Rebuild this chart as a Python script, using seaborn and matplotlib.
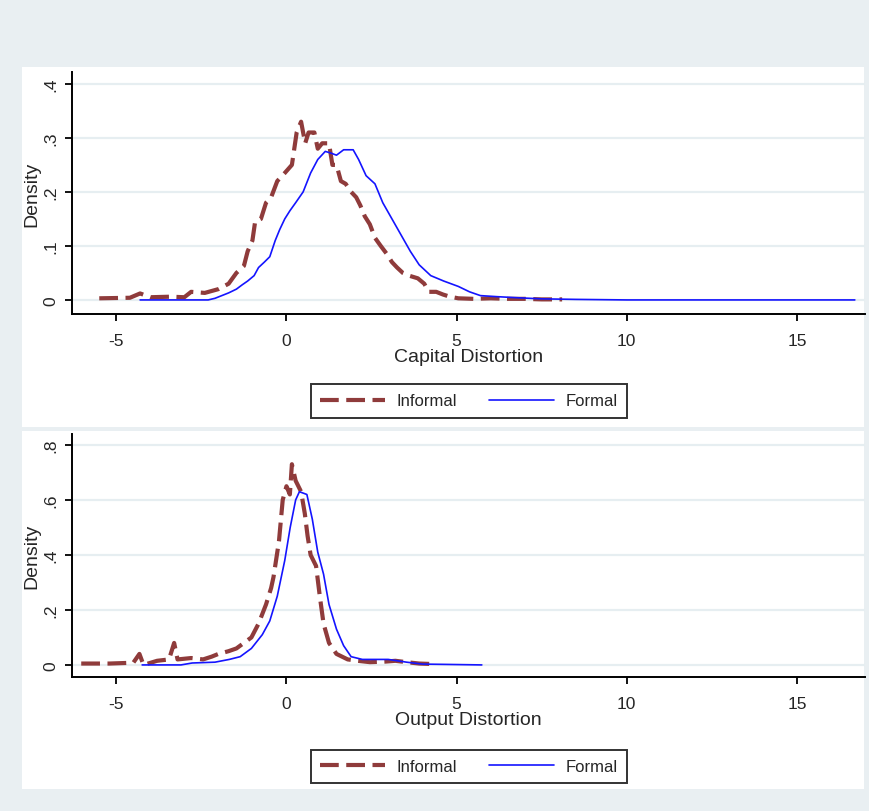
import matplotlib
matplotlib.use('Agg')
import matplotlib.pyplot as plt
from matplotlib.patches import Rectangle
from matplotlib.lines import Line2D
import seaborn as sns
import pandas as pd

# 数据：核密度曲线
cap_inf_x = [-5.5, -4.6, -4.3, -4.0, -3.4, -3.0, -2.8, -2.4, -2.0, -1.7, -1.47, -1.25, -1.14, -1.0, -0.92,
             -0.75, -0.6, -0.45, -0.27, -0.05, 0.16, 0.3, 0.43, 0.55, 0.65, 0.82, 0.92, 1.05, 1.25, 1.35,
             1.47, 1.6, 1.74, 1.9, 2.05, 2.17, 2.3, 2.45, 2.6, 2.77, 2.95, 3.1, 3.25, 3.42, 3.6, 3.86,
             4.05, 4.18, 4.4, 4.6, 4.8, 5.05, 5.5, 6.0, 6.5, 7.0, 7.5, 8.1]
cap_inf_y = [0.003, 0.004, 0.012, 0.005, 0.006, 0.005, 0.015, 0.013, 0.02, 0.03, 0.05, 0.063, 0.09, 0.11, 0.145,
             0.15, 0.18, 0.19, 0.22, 0.235, 0.25, 0.31, 0.33, 0.29, 0.31, 0.31, 0.28, 0.29, 0.29, 0.25,
             0.25, 0.22, 0.215, 0.20, 0.19, 0.175, 0.155, 0.14, 0.115, 0.10, 0.085, 0.07, 0.06, 0.05, 0.045, 0.04,
             0.03, 0.015, 0.015, 0.01, 0.006, 0.003, 0.002, 0.003, 0.002, 0.002, 0.001, 0.001]
cap_for_x = [-4.3, -3.0, -2.3, -2.1, -1.9, -1.7, -1.47, -1.3, -1.14, -0.95, -0.82, -0.65, -0.49, -0.33, -0.2,
             -0.05, 0.1, 0.27, 0.49, 0.71, 0.92, 1.14, 1.3, 1.47, 1.68, 1.96, 2.12, 2.34, 2.6, 2.83, 3.1,
             3.37, 3.64, 3.9, 4.24, 4.62, 5.05, 5.38, 5.7, 6.2, 6.8, 7.5, 8.5, 10.0, 12.0, 14.0, 16.7]
cap_for_y = [0.0, 0.0, 0.0, 0.003, 0.008, 0.013, 0.02, 0.028, 0.035, 0.045, 0.06, 0.07, 0.08, 0.11, 0.13,
             0.15, 0.165, 0.18, 0.20, 0.235, 0.26, 0.275, 0.272, 0.268, 0.278, 0.278, 0.26, 0.23, 0.215, 0.18, 0.15,
             0.12, 0.09, 0.065, 0.045, 0.035, 0.025, 0.015, 0.008, 0.006, 0.004, 0.002, 0.001, 0.0, 0.0, 0.0, 0.0]

out_inf_x = [-6.03, -5.2, -4.5, -4.32, -4.2, -3.8, -3.45, -3.3, -3.2, -2.8, -2.45, -2.2, -2.0, -1.7, -1.47,
             -1.25, -1.03, -0.82, -0.6, -0.45, -0.38, -0.22, -0.11, 0.0, 0.1, 0.16, 0.27, 0.43, 0.54, 0.62,
             0.71, 0.87, 0.98, 1.09, 1.25, 1.47, 1.8, 2.1, 2.45, 2.9, 3.2, 3.53, 3.9, 4.35]
out_inf_y = [0.005, 0.005, 0.008, 0.04, 0.0, 0.015, 0.02, 0.08, 0.02, 0.025, 0.02, 0.03, 0.04, 0.05, 0.06,
             0.08, 0.10, 0.15, 0.22, 0.28, 0.32, 0.45, 0.60, 0.65, 0.62, 0.73, 0.67, 0.63, 0.55, 0.47,
             0.40, 0.36, 0.25, 0.15, 0.08, 0.04, 0.02, 0.015, 0.01, 0.012, 0.015, 0.01, 0.005, 0.003]
out_for_x = [-4.24, -3.1, -2.77, -2.1, -1.68, -1.36, -1.03, -0.71, -0.49, -0.27, -0.05, 0.11, 0.27, 0.38,
             0.6, 0.76, 0.92, 1.09, 1.25, 1.47, 1.68, 1.9, 2.23, 2.99, 3.53, 4.0, 4.62, 5.74]
out_for_y = [0.0, 0.0, 0.007, 0.01, 0.02, 0.03, 0.06, 0.11, 0.16, 0.25, 0.38, 0.50, 0.60, 0.63,
             0.62, 0.53, 0.41, 0.33, 0.22, 0.13, 0.07, 0.03, 0.02, 0.02, 0.01, 0.003, 0.002, 0.0]

series_names = ['Informal', 'Formal']
x_titles = ['Capital Distortion', 'Output Distortion']
y_title = 'Density'
x_ticks = [-5, 0, 5, 10, 15]
x_ticklabels = ['-5', '0', '5', '10', '15']
cap_yticks = [0, 0.1, 0.2, 0.3, 0.4]
cap_yticklabels = ['0', '.1', '.2', '.3', '.4']
out_yticks = [0, 0.2, 0.4, 0.6, 0.8]
out_yticklabels = ['0', '.2', '.4', '.6', '.8']

sns.set_style('white')
plt.rcParams['font.family'] = ['Liberation Sans', 'DejaVu Sans']
plt.rcParams['axes.unicode_minus'] = False

BG = '#e9eff2'
GRID = '#e6eef1'
RED = '#8f3b3b'
BLUE = '#1414ff'

fig = plt.figure(figsize=(8.7, 8.12), dpi=100, facecolor=BG)
# 白色面板
for y0, h in [(0.4729, 0.4433), (0.0271, 0.4409)]:
    fig.add_artist(Rectangle((0.0253, y0), 0.968, h, transform=fig.transFigure,
                             facecolor='white', edgecolor='none', zorder=0))

ax_top = fig.add_axes([0.0828, 0.6121, 0.9115, 0.2980])
ax_bot = fig.add_axes([0.0828, 0.1650, 0.9115, 0.2993])

panels = [
    (ax_top, cap_inf_x, cap_inf_y, cap_for_x, cap_for_y, cap_yticks, cap_yticklabels, (-0.026, 0.422), x_titles[0], 0.505),
    (ax_bot, out_inf_x, out_inf_y, out_for_x, out_for_y, out_yticks, out_yticklabels, (-0.044, 0.84), x_titles[1], 0.0548),
]

for ax, ix, iy, fx, fy, yt, ytl, ylim, xt, leg_y in panels:
    ax.set_facecolor('none')
    df_i = pd.DataFrame({'x': ix, 'y': iy})
    df_f = pd.DataFrame({'x': fx, 'y': fy})
    sns.lineplot(data=df_i, x='x', y='y', ax=ax, sort=False, estimator=None,
                 color=RED, lw=3.0)
    ax.lines[-1].set_dashes([4.5, 1.8])
    sns.lineplot(data=df_f, x='x', y='y', ax=ax, sort=False, estimator=None,
                 color=BLUE, lw=1.2)

    ax.set_xlim(-6.3, 17.0)
    ax.set_ylim(*ylim)
    ax.set_xticks(x_ticks)
    ax.set_xticklabels(x_ticklabels)
    ax.set_yticks(yt)
    ax.set_yticklabels(ytl, rotation=90, va='center')
    for v in yt:
        ax.axhline(v, color=GRID, lw=1.6, zorder=0)

    for s in ['top', 'right']:
        ax.spines[s].set_visible(False)
    for s in ['left', 'bottom']:
        ax.spines[s].set_color('black')
        ax.spines[s].set_linewidth(1.4)
    ax.tick_params(axis='both', direction='out', length=5, width=1.3, color='black',
                   labelsize=12.5, left=True, bottom=True)
    ax.tick_params(axis='y', pad=5)
    ax.tick_params(axis='x', pad=9)

    ax.set_ylabel(y_title, fontsize=14, labelpad=2)
    ax.set_xlabel(xt, fontsize=14, labelpad=0)

    handles = [Line2D([], [], color=RED, lw=3.0, dashes=[4.5, 1.8]),
               Line2D([], [], color=BLUE, lw=1.2)]
    leg = ax.legend(handles, series_names, loc='center', bbox_to_anchor=(0.539, leg_y),
                    bbox_transform=fig.transFigure, ncol=2, fontsize=12,
                    frameon=True, fancybox=False, edgecolor='black',
                    handlelength=3.9, columnspacing=1.9, handletextpad=0.7,
                    borderpad=0.55, borderaxespad=0)
    leg.get_frame().set_linewidth(1.4)

fig.savefig('out.png', dpi=100, facecolor=BG)
